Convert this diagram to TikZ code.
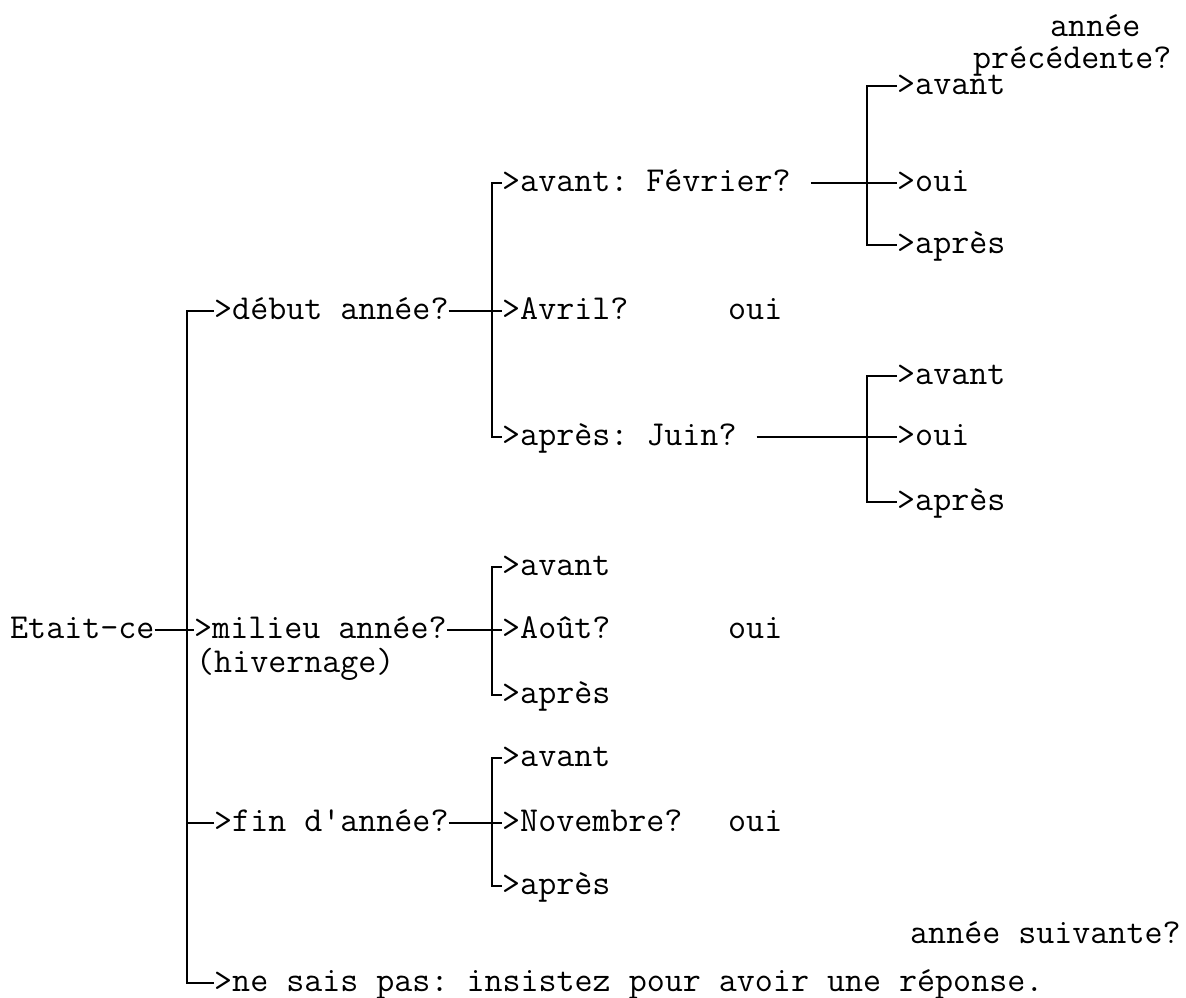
\documentclass[tikz,border=0pt]{standalone}
\usepackage{tikz}
\usetikzlibrary{positioning,calc}
\frenchspacing
\tikzset{
	lbl/.style={anchor=west,inner sep=0pt,font=\fontsize{35}{40}\selectfont\ttfamily,text height=24pt,text depth=7pt},
	brk/.style={line width=1.4pt}
}

\begin{document}
\begin{tikzpicture}[x=1pt,y=-1pt]
\useasboundingbox (0,0) rectangle (1186,998);
\node[lbl] (etait) at (10,630) {Etait-ce};
\node[lbl] (debut) at (214,311) {>début année?};
\node[lbl] (milieu) at (194,630) {>milieu année?};
\node[lbl] (hiver) at (196,664) {(hivernage)};
\node[lbl] (fin) at (214,823) {>fin d\textquotesingle année?};
\node[lbl] (nsp) at (214,983) {>ne sais pas: insistez pour avoir une réponse.};
\node[lbl] (fev) at (502,183) {>avant: Février?};
\node[lbl] (avril) at (502,311) {>Avril?};
\node[lbl] (juin) at (502,437) {>après: Juin?};
\node[lbl] (avant2) at (502,567) {>avant};
\node[lbl] (aout) at (502,630) {>Août?};
\node[lbl] (apres2) at (502,695) {>après};
\node[lbl] (avant3) at (502,758) {>avant};
\node[lbl] (nov) at (502,823) {>Novembre?};
\node[lbl] (apres3) at (502,886) {>après};
\foreach \n/\y in {oui1/311,oui2/630,oui3/823}
	\node[lbl] (\n) at (728,\y) {oui};
\node[lbl] (pav) at (897,86) {>avant};
\node[lbl] (poui) at (897,183) {>oui};
\node[lbl] (papres) at (897,245) {>après};
\node[lbl] (sav) at (897,376) {>avant};
\node[lbl] (soui) at (897,437) {>oui};
\node[lbl] (sapres) at (897,502) {>après};
\node[lbl] (annee) at (1050,28) {année};
\node[lbl] (prec) at (973,60) {précédente?};
\node[lbl] (suiv) at (910,935) {année suivante?};
\draw[brk] (debut.west) -- ++(-27,0) |- (nsp.west);
\draw[brk] (fin.west) -- ++(-27,0);
\draw[brk] (etait.east) -- (milieu.west);
\foreach \p/\a/\m/\b in {debut/fev/avril/juin,milieu/avant2/aout/apres2,fin/avant3/nov/apres3} {
	\draw[brk] (\a.west) -- ++(-10,0) |- (\b.west);
	\draw[brk] (\p.east) -- (\m.west);
}
\foreach \p/\a/\m/\b in {fev/pav/poui/papres,juin/sav/soui/sapres} {
	\draw[brk] (\a.west) -- ++(-30,0) |- (\b.west);
	\draw[brk,shorten <=20pt] (\p.east) -- (\m.west);
}
\end{tikzpicture}
\end{document}
